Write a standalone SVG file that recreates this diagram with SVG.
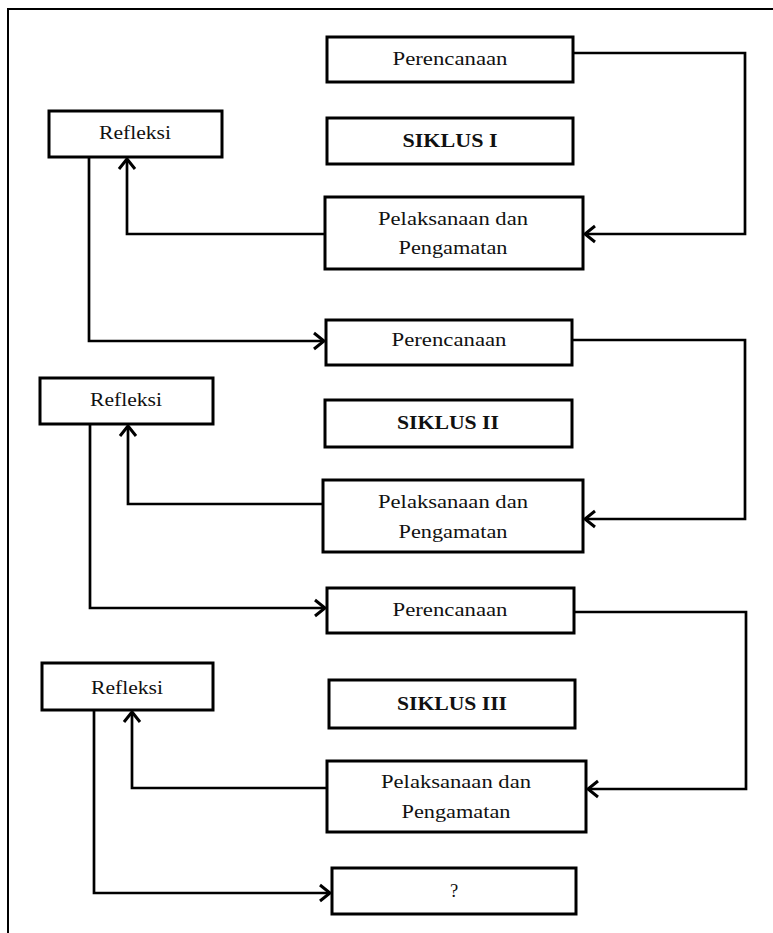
<svg xmlns="http://www.w3.org/2000/svg" width="773" height="933" viewBox="0 0 773 933">
<defs>
<marker id="arr" markerUnits="userSpaceOnUse" markerWidth="16" markerHeight="20" refX="12" refY="9" orient="auto" overflow="visible">
<path d="M2,1 L12,9 L2,17" fill="none" stroke="#000" stroke-width="3" stroke-linejoin="miter"/>
</marker>
<style>
.box{fill:#fff;stroke:#000;stroke-width:3}
.t{font-family:"Liberation Serif","Times New Roman",serif;font-size:18.5px;fill:#111;text-anchor:middle;dominant-baseline:central}
.b{font-weight:bold}
.c{fill:none;stroke:#000;stroke-width:2.7;stroke-linejoin:miter}
</style>
</defs>
<rect width="773" height="933" fill="#fff"/>
<path d="M8,933 V9 H773" fill="none" stroke="#000" stroke-width="2"/>
<g id="connectors">
<path class="c" d="M573,53 H745 V234 H585" marker-end="url(#arr)"/>
<path class="c" d="M325,234 H127 V159" marker-end="url(#arr)"/>
<path class="c" d="M89,157 V341 H324" marker-end="url(#arr)"/>
<path class="c" d="M572,340 H745 V519 H585" marker-end="url(#arr)"/>
<path class="c" d="M323,504 H128 V426" marker-end="url(#arr)"/>
<path class="c" d="M90,424 V608 H325" marker-end="url(#arr)"/>
<path class="c" d="M574,612 H746 V789 H588" marker-end="url(#arr)"/>
<path class="c" d="M327,788 H132 V712" marker-end="url(#arr)"/>
<path class="c" d="M94,710 V893 H330" marker-end="url(#arr)"/>
</g>
<g id="perencanaan1"><rect class="box" x="327" y="37" width="246" height="45"/><text class="t" x="450" y="59" textLength="115" lengthAdjust="spacingAndGlyphs">Perencanaan</text></g>
<g id="refleksi1"><rect class="box" x="49" y="111" width="173" height="46"/><text class="t" x="135" y="133" textLength="72" lengthAdjust="spacingAndGlyphs">Refleksi</text></g>
<g id="siklus1"><rect class="box" x="327" y="118" width="246" height="46"/><text class="t b" x="450" y="141" textLength="95" lengthAdjust="spacingAndGlyphs">SIKLUS I</text></g>
<g id="pelaksanaan1"><rect class="box" x="325" y="197" width="258" height="72"/><text class="t" x="453" y="219" textLength="150" lengthAdjust="spacingAndGlyphs">Pelaksanaan dan</text><text class="t" x="453" y="248" textLength="109" lengthAdjust="spacingAndGlyphs">Pengamatan</text></g>
<g id="perencanaan2"><rect class="box" x="326" y="320" width="246" height="45"/><text class="t" x="449" y="340" textLength="115" lengthAdjust="spacingAndGlyphs">Perencanaan</text></g>
<g id="refleksi2"><rect class="box" x="40" y="378" width="173" height="46"/><text class="t" x="126" y="400" textLength="72" lengthAdjust="spacingAndGlyphs">Refleksi</text></g>
<g id="siklus2"><rect class="box" x="325" y="400" width="247" height="47"/><text class="t b" x="448" y="423" textLength="102" lengthAdjust="spacingAndGlyphs">SIKLUS II</text></g>
<g id="pelaksanaan2"><rect class="box" x="323" y="480" width="260" height="72"/><text class="t" x="453" y="502" textLength="150" lengthAdjust="spacingAndGlyphs">Pelaksanaan dan</text><text class="t" x="453" y="532" textLength="109" lengthAdjust="spacingAndGlyphs">Pengamatan</text></g>
<g id="perencanaan3"><rect class="box" x="327" y="588" width="247" height="45"/><text class="t" x="450" y="610" textLength="115" lengthAdjust="spacingAndGlyphs">Perencanaan</text></g>
<g id="refleksi3"><rect class="box" x="42" y="663" width="171" height="47"/><text class="t" x="127" y="688" textLength="72" lengthAdjust="spacingAndGlyphs">Refleksi</text></g>
<g id="siklus3"><rect class="box" x="329" y="680" width="246" height="48"/><text class="t b" x="452" y="704" textLength="110" lengthAdjust="spacingAndGlyphs">SIKLUS III</text></g>
<g id="pelaksanaan3"><rect class="box" x="327" y="761" width="259" height="71"/><text class="t" x="456" y="782" textLength="150" lengthAdjust="spacingAndGlyphs">Pelaksanaan dan</text><text class="t" x="456" y="812" textLength="109" lengthAdjust="spacingAndGlyphs">Pengamatan</text></g>
<g id="next"><rect class="box" x="332" y="868" width="244" height="46"/><text class="t" x="454" y="891">?</text></g>
</svg>
